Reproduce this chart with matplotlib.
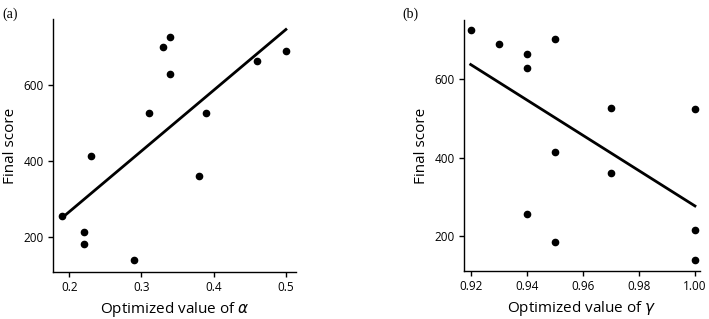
import numpy as np
import matplotlib
matplotlib.use('Agg')
import matplotlib.pyplot as plt

# data (same runs in both)
alpha_opt = [0.19, 0.22, 0.22, 0.23, 0.29, 0.31, 0.33, 0.34, 0.34, 0.38, 0.39, 0.46, 0.50]
score_a = [257, 215, 183, 414, 140, 526, 700, 726, 628, 361, 527, 662, 690]

gamma_opt = [0.92, 0.93, 0.94, 0.94, 0.94, 0.95, 0.95, 0.95, 0.97, 0.97, 1.00, 1.00, 1.00]
score_b = [726, 689, 663, 628, 257, 702, 414, 184, 526, 361, 524, 215, 140]

plt.rcParams['font.family'] = 'Open Sans'
plt.rcParams['mathtext.fontset'] = 'dejavusans'
plt.rcParams['xtick.labelsize'] = 8.5
plt.rcParams['ytick.labelsize'] = 8.5
plt.rcParams['axes.labelsize'] = 11

fig = plt.figure(figsize=(7.09, 3.19), dpi=100)
ax1 = fig.add_axes([0.0743, 0.148, 0.3432, 0.792])
ax2 = fig.add_axes([0.6544, 0.1514, 0.3329, 0.7856])


def scatter_fit(ax, x, y):
    x = np.array(x)
    y = np.array(y)
    ax.plot(x, y, 'o', color='black', markersize=4.5, zorder=3)
    # least squares line between the extreme x values
    k, b = np.polyfit(x, y, 1)
    xx = np.array([x.min(), x.max()])
    ax.plot(xx, k * xx + b, color='black', linewidth=2.0)
    for s in ['top', 'right']:
        ax.spines[s].set_visible(False)
    ax.spines['left'].set_linewidth(1.0)
    ax.spines['bottom'].set_linewidth(1.0)
    ax.tick_params(direction='out', length=3.5, width=1.0, pad=3)
    ax.set_ylabel('Final score')
    ax.set_yticks([200, 400, 600])


scatter_fit(ax1, alpha_opt, score_a)
ax1.set_xlim(0.177, 0.514)
ax1.set_ylim(110, 773)
ax1.set_xticks([0.2, 0.3, 0.4, 0.5])
ax1.set_xlabel(r'Optimized value of $\alpha$', labelpad=4.5)

scatter_fit(ax2, gamma_opt, score_b)
ax2.set_xlim(0.9176, 1.0018)
ax2.set_ylim(112, 750)
ax2.set_xticks([0.92, 0.94, 0.96, 0.98, 1.00])
ax2.set_xticklabels(['0.92', '0.94', '0.96', '0.98', '1.00'])
ax2.set_xlabel(r'Optimized value of $\gamma$', labelpad=4.5)

fig.text(0.004, 0.975, '(a)', family='Liberation Serif', fontsize=10, va='top')
fig.text(0.568, 0.975, '(b)', family='Liberation Serif', fontsize=10, va='top')

fig.savefig('out.png', dpi=100)
